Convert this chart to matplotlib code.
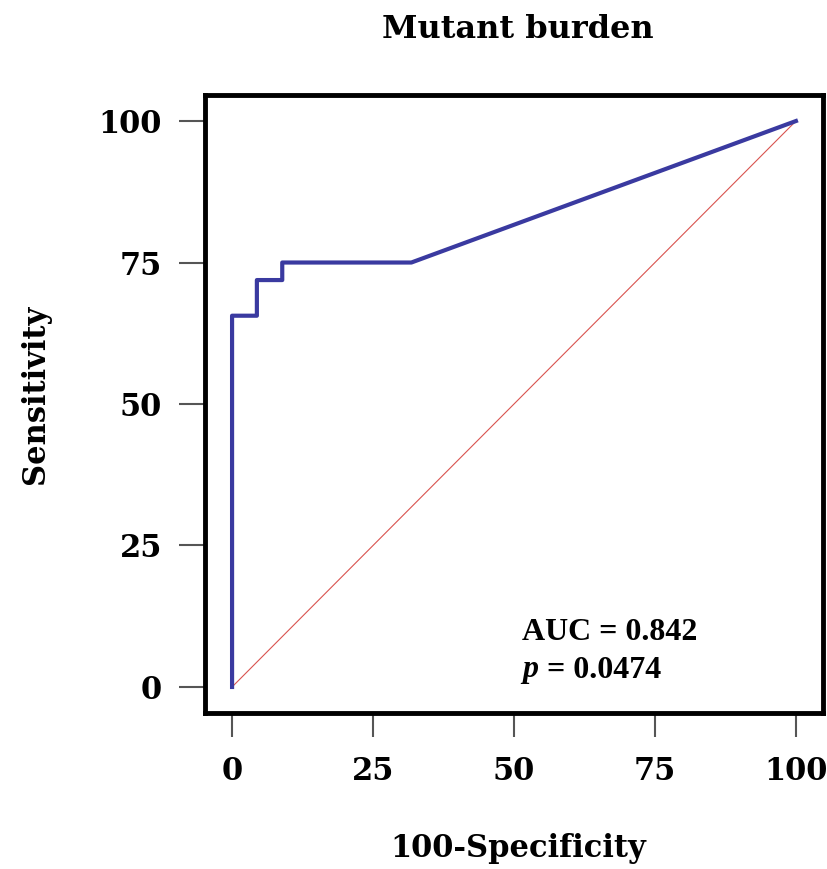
import matplotlib
matplotlib.use("Agg")
import matplotlib.pyplot as plt

# Data
fpr = [0, 0, 4.4, 4.4, 8.9, 8.9, 31.8, 100]
tpr = [0, 65.6, 65.6, 71.9, 71.9, 75.0, 75.0, 100]
ticks = [0, 25, 50, 75, 100]
title = "Mutant burden"
xlabel = "100-Specificity"
ylabel = "Sensitivity"
auc_text = "AUC = 0.842"
p_value = "0.0474"

plt.rcParams['font.family'] = ['DejaVu Serif']
plt.rcParams['font.weight'] = 'bold'
FS = 22

W, H = 827, 869
fig = plt.figure(figsize=(W/100, H/100), dpi=100)
ax = fig.add_axes([205/W, 1-713/H, (823-205)/W, (713-95)/H])

ax.plot([0, 100], [0, 100], color='#d9534f', lw=0.8)
ax.plot(fpr, tpr, color='#3a3aa0', lw=3)

ax.set_xlim(-4.8, 104.8)
ax.set_ylim(-4.6, 104.6)
ax.set_xticks(ticks)
ax.set_yticks(ticks)
ax.set_xticklabels([str(t) for t in ticks], fontsize=FS, fontweight='bold')
ax.set_yticklabels([str(t) for t in ticks], fontsize=FS, fontweight='bold')
ax.tick_params(axis='x', length=17, width=1.5, color='#555555', pad=14)
ax.tick_params(axis='y', length=19, width=1.5, color='#555555', pad=12)
for s in ax.spines.values():
    s.set_linewidth(3.5)
    s.set_color('black')

ax.set_xlabel(xlabel, fontsize=FS, fontweight='bold')
ax.set_ylabel(ylabel, fontsize=FS, fontweight='bold')
ax.xaxis.set_label_coords(518/W, 1-848/H, transform=fig.transFigure)
ax.yaxis.set_label_coords(36/W, 1-394/H, transform=fig.transFigure)
ax.xaxis.label.set_va('center')
ax.yaxis.label.set_va('center')
fig.text(518/W, 1-30/H, title, ha='center', va='center', fontsize=23, fontweight='bold')

tfam = ['Liberation Serif', 'DejaVu Serif']
ax.text(522/W, 1-633/H, auc_text, transform=fig.transFigure, fontsize=23, fontweight='bold',
        va='center', family=tfam)
ax.text(522/W, 1-670/H, "p", transform=fig.transFigure, fontsize=23,
        fontweight='bold', style='italic', va='center', family=tfam)
ax.text(547/W, 1-670/H, "= " + p_value, transform=fig.transFigure, fontsize=23, fontweight='bold',
        va='center', family=tfam)

fig.savefig("out.png", dpi=100)
